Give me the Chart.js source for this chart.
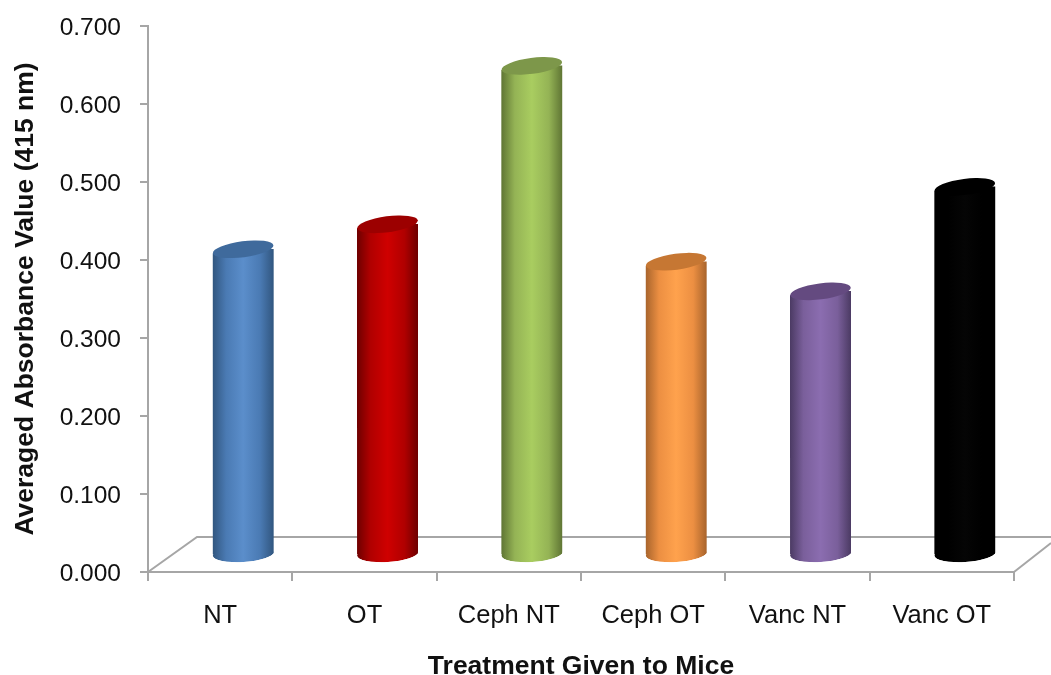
<!DOCTYPE html>
<html lang="en">
<head>
    <meta charset="UTF-8">
    <title>Averaged Absorbance by Treatment</title>
    <script src="https://cdn.jsdelivr.net/npm/chart.js"></script>
    <style>
        html, body { margin: 0; padding: 0; background: #fff; }
        #wrap { width: 1051px; height: 675px; }
    </style>
</head>
<body>
<div id="wrap"><canvas id="absorbanceChart"></canvas></div>
<script>
    const categories = ['NT', 'OT', 'Ceph NT', 'Ceph OT', 'Vanc NT', 'Vanc OT'];
    const absorbance = [0.392, 0.424, 0.627, 0.376, 0.338, 0.472];

    // edge shade, face, highlight and top cap for each cylinder
    const edgeColours = ['#31567f', '#6e0000', '#5f7534', '#a8642c', '#4b3a63', '#000000'];
    const faceColours = ['#4a7ab3', '#b00000', '#94b355', '#ec8f42', '#7a5f9b', '#000000'];
    const lightColours = ['#5b8ecb', '#cf0000', '#a9cd60', '#ffa24d', '#8b6db0', '#050505'];
    const capColours = ['#3f6a9c', '#9c0000', '#7d974a', '#c67733', '#644a80', '#000000'];

    const axisGrey = '#a6a6a6';
    const BAR_WIDTH = 61;
    const CAP_RY = 8;
    const CAP_TILT = -0.13;
    const BASE_TILT = -0.06;
    // the columns stand in the middle of the floor's depth
    const DEPTH_X = 23;
    const DEPTH_Y = -17;

    function barGradient(ctx, cx, i) {
        const g = ctx.createLinearGradient(cx - BAR_WIDTH / 2, 0, cx + BAR_WIDTH / 2, 0);
        g.addColorStop(0, edgeColours[i]);
        g.addColorStop(0.22, faceColours[i]);
        g.addColorStop(0.5, lightColours[i]);
        g.addColorStop(0.78, faceColours[i]);
        g.addColorStop(1, edgeColours[i]);
        return g;
    }

    const cylinders = {
        id: 'cylinders',
        beforeDatasetsDraw(chart) {
            // floor of the 3D plot, behind the columns
            const { ctx, chartArea: a, width } = chart;
            ctx.save();
            ctx.strokeStyle = axisGrey;
            ctx.lineWidth = 2;
            ctx.beginPath();
            ctx.moveTo(a.left, a.bottom);
            ctx.lineTo(a.left + 49, a.bottom - 35);
            ctx.lineTo(width, a.bottom - 35);
            ctx.moveTo(a.right, a.bottom);
            ctx.lineTo(width, a.bottom - 29);
            ctx.stroke();
            ctx.restore();
        },
        beforeDatasetDraw(chart) {
            const ctx = chart.ctx;
            ctx.save();
            ctx.translate(DEPTH_X, DEPTH_Y);
            // trim the square bar ends to the tilted cap and the curve of the base
            ctx.beginPath();
            chart.getDatasetMeta(0).data.forEach(bar => {
                const r = BAR_WIDTH / 2;
                const rise = r * Math.sin(CAP_TILT);
                ctx.moveTo(bar.x + r, bar.y + rise);
                ctx.lineTo(bar.x + r, bar.base - 4);
                ctx.ellipse(bar.x, bar.base, r, CAP_RY, BASE_TILT, 0, Math.PI);
                ctx.lineTo(bar.x - r, bar.y - rise);
                ctx.closePath();
            });
            ctx.clip();
        },
        afterDatasetDraw(chart) {
            const ctx = chart.ctx;
            const bars = chart.getDatasetMeta(0).data;
            bars.forEach((bar, i) => {
                ctx.fillStyle = barGradient(ctx, bar.x, i);
                ctx.beginPath();
                ctx.ellipse(bar.x, bar.base, BAR_WIDTH / 2, CAP_RY, BASE_TILT, 0, Math.PI * 2);
                ctx.fill();
            });
            ctx.restore();
            ctx.save();
            ctx.translate(DEPTH_X, DEPTH_Y);
            bars.forEach((bar, i) => {
                ctx.fillStyle = capColours[i];
                ctx.beginPath();
                ctx.ellipse(bar.x, bar.y, BAR_WIDTH / 2, CAP_RY, CAP_TILT, 0, Math.PI * 2);
                ctx.fill();
            });
            ctx.restore();
        }
    };

    new Chart(document.getElementById('absorbanceChart'), {
        type: 'bar',
        data: {
            labels: categories,
            datasets: [{
                label: 'Averaged Absorbance Value (415 nm)',
                data: absorbance,
                barThickness: BAR_WIDTH,
                borderWidth: 0,
                backgroundColor(c) {
                    const x = c.chart.scales.x;
                    const cx = x && c.dataIndex !== undefined ? x.getPixelForValue(c.dataIndex) : NaN;
                    if (!Number.isFinite(cx)) return faceColours[c.dataIndex || 0];
                    return barGradient(c.chart.ctx, cx, c.dataIndex);
                }
            }]
        },
        options: {
            responsive: true,
            maintainAspectRatio: false,
            animation: false,
            layout: { padding: { top: 26, right: 37 } },
            plugins: { legend: { display: false }, tooltip: { enabled: false } },
            scales: {
                x: {
                    afterFit(s) { s.height = 103; s.paddingLeft = 0; s.paddingRight = 0; },
                    grid: { drawOnChartArea: false, color: axisGrey, lineWidth: 2, tickLength: 9 },
                    border: { color: axisGrey, width: 2 },
                    ticks: { color: '#111', padding: 20, maxRotation: 0, font: { family: 'Liberation Sans', size: 25.5 } },
                    title: {
                        display: true,
                        text: 'Treatment Given to Mice',
                        color: '#111',
                        padding: { top: 0, bottom: -8 },
                        font: { family: 'Liberation Sans', size: 26.5, weight: 'bold' }
                    }
                },
                y: {
                    min: 0,
                    max: 0.7,
                    afterFit(s) { s.width = 148; s.paddingTop = 0; s.paddingBottom = 0; },
                    grid: { drawOnChartArea: false, color: axisGrey, lineWidth: 2, tickLength: 8 },
                    border: { color: axisGrey, width: 2 },
                    ticks: {
                        stepSize: 0.1,
                        color: '#111',
                        padding: 19,
                        labelOffset: 2,
                        callback: v => v.toFixed(3),
                        font: { family: 'Liberation Sans', size: 24.5 }
                    },
                    title: {
                        display: true,
                        text: 'Averaged Absorbance Value (415 nm)',
                        color: '#111',
                        padding: { top: 10, bottom: 0 },
                        font: { family: 'Liberation Sans', size: 26.5, weight: 'bold' }
                    }
                }
            }
        },
        plugins: [cylinders]
    });
</script>
</body>
</html>
